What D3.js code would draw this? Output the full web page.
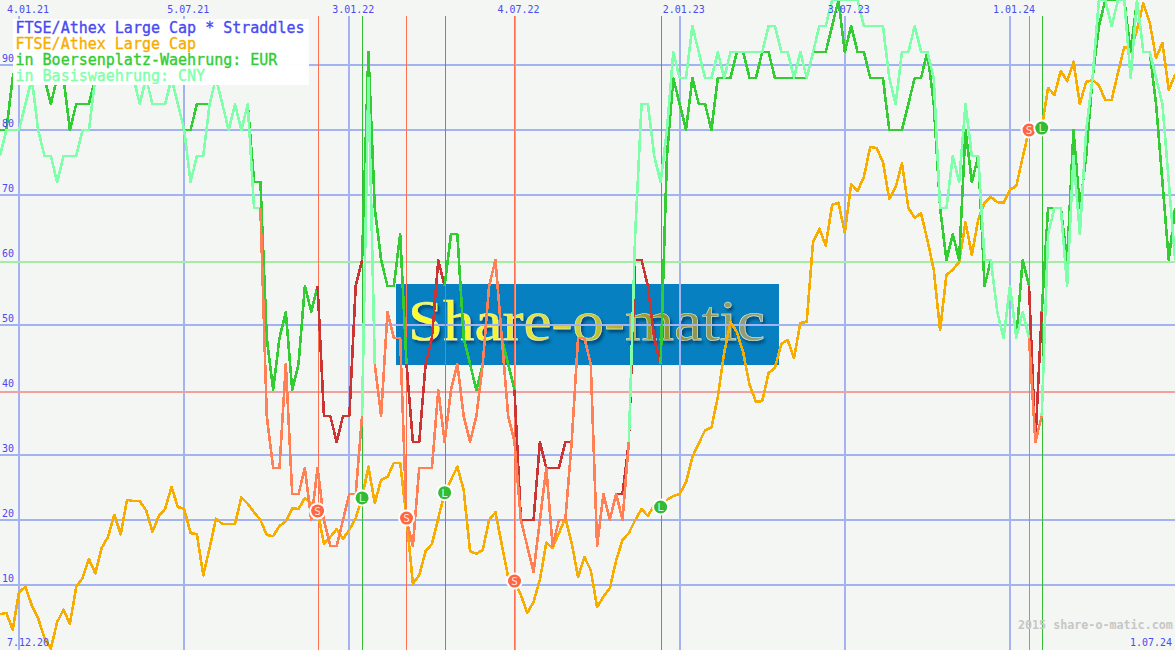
<!DOCTYPE html>
<html><head><meta charset="utf-8">
<script src="https://cdn.jsdelivr.net/npm/d3@7"></script>
<style>html,body{margin:0;padding:0;background:#f4f6f3;overflow:hidden}svg{display:block}
text{font-family:"DejaVu Sans Mono",monospace}</style></head><body>
<div id="chart"></div>
<script>
// Weekly index: 0 = first visible week of the chart
const indexSeries = [5.5,5.7,3.1,8.9,9.7,6.9,4.9,1.8,0.2,4.3,6.2,4.0,9.7,11.1,14.0,11.8,15.7,17.4,20.8,17.8,23.1,22.9,22.9,21.5,18.2,20.6,21.7,25.1,22.0,21.7,18.0,17.8,11.5,15.7,20.2,19.4,19.4,19.4,23.5,22.5,21.2,20.0,17.7,17.5,19.1,19.8,21.8,21.7,23.4,22.5,21.4,16.3,17.4,18.6,17.1,18.5,20.3,23.4,28.2,22.6,26.2,26.6,28.8,28.8,20.3,10.2,11.5,15.2,16.3,20.3,24.2,26.2,28.2,24.6,15.2,14.8,15.4,20.0,21.2,16.2,11.2,10.6,8.5,5.7,7.4,10.8,16.5,15.7,18.0,20.3,16.5,11.2,14.3,12.3,6.6,8.2,9.5,13.8,16.9,18.0,20.0,21.7,20.6,22.3,22.0,23.1,23.7,24.0,25.8,29.7,31.8,33.8,34.2,38.9,45.7,50.5,48.9,45.8,40.8,38.2,38.3,42.6,43.4,47.1,47.7,44.9,50.3,50.5,62.8,64.8,62.2,68.5,68.8,64.2,71.7,70.6,72.8,77.4,77.2,75.1,69.4,71.2,74.9,68.0,66.5,67.2,63.1,58.5,49.2,57.7,58.5,59.7,65.8,60.8,66.2,68.8,69.7,68.9,68.8,70.8,71.4,75.8,80.0,80.0,80.3,86.5,85.4,89.1,87.5,90.5,84.0,87.4,87.7,86.9,84.6,84.6,88.8,92.8,92.3,95.4,99.5,96.5,91.1,93.4,86.2,88.5];
const eurSeries = [80,80,88,92,92,92,92,88,84,88,88,80,84,84,84,88,92,92,92,92,92,92,88,92,92,88,92,88,84,80,80,84,84,84,88,84,80,84,80,84,72,72,48,40,48,52,40,44,56,52,56,36,36,32,36,36,56,60,92,68,60,56,56,64,44,32,32,44,48,60,56,64,64,48,44,40,44,56,60,48,44,40,20,20,20,32,28,28,28,32,32,48,48,44,16,24,20,24,24,32,60,60,56,48,44,76,88,84,80,88,84,84,80,88,88,88,92,92,88,88,92,92,88,88,88,88,88,88,92,92,92,96,100,92,96,92,92,88,88,88,80,80,80,84,88,88,92,84,68,60,64,60,80,72,76,56,60,52,48,56,48,60,56,32,52,68,68,68,60,80,68,76,88,96,100,100,100,100,92,100,92,92,84,72,60,68];
const cnySeries = [76,80,80,80,84,88,80,76,76,72,76,76,76,80,80,88,92,92,92,92,92,88,84,88,84,84,84,88,84,80,72,76,76,84,88,84,80,84,80,84,68,68,36,28,28,44,24,24,28,20,28,20,16,16,20,24,24,36,88,44,36,52,48,48,20,16,28,28,28,40,32,40,44,36,32,36,44,56,60,48,36,32,20,16,12,20,28,16,20,20,32,48,48,44,16,24,20,24,20,32,64,84,84,76,72,80,92,88,88,96,92,88,88,92,88,92,92,92,92,92,92,96,96,92,92,88,92,88,92,96,96,100,100,100,100,100,96,96,96,96,88,84,92,92,96,92,92,88,68,68,76,72,84,76,76,60,60,52,48,56,48,52,48,32,36,64,68,68,56,76,64,80,88,100,100,96,100,100,88,100,92,92,88,84,72,60];
const shortSignals = [50,64,81,162];
const longSignals = [57,70,104,164];
const eurShortRuns = [[50,57],[64,70],[81,104],[162,164]];
const cnyShortRuns = [[41,57],[59,99],[162,164]];
const dateTickWeeks = [3,29,55,81,107,133,159];
const dateTickLabels = ["4.01.21","5.07.21","3.01.22","4.07.22","2.01.23","3.07.23","1.01.24"];
const valueTicks = [10,20,30,50,70,80,90];
const valueLabels = [10,20,30,40,50,60,70,80,90];
const refHigh = 59.7, refLow = 39.7;
const legendLines = ["FTSE/Athex Large Cap * Straddles","FTSE/Athex Large Cap","in Boersenplatz-Waehrung: EUR","in Basiswaehrung: CNY"];
const legendColors = ["#4a4af2","#f7ad00","#33cc33","#80ffaa"];

const W = 1175, H = 650;
const x = d3.scaleLinear().domain([0,185]).range([0,1175.12]);
const y = d3.scaleLinear().domain([0,100]).range([650,0]);

const svg = d3.select("#chart").append("svg").attr("width",W).attr("height",H).attr("viewBox",`0 0 ${W} ${H}`);
svg.append("rect").attr("width",W).attr("height",H).attr("fill","#f4f6f3");

// logo
const defs = svg.append("defs");
const g = defs.append("linearGradient").attr("id","logoGrad").attr("x1","0").attr("x2","1").attr("y1","0").attr("y2","0");
[[0,"#ffff28"],[0.22,"#f6f630"],[0.45,"#d4d43c"],[0.7,"#94942a"],[1,"#8f9f88"]].forEach(s=>g.append("stop").attr("offset",s[0]).attr("stop-color",s[1]));
const sh = defs.append("filter").attr("id","logoShadow").attr("x","-5%").attr("y","-20%").attr("width","110%").attr("height","140%");
sh.append("feDropShadow").attr("dx",2).attr("dy",3).attr("stdDeviation",1.5).attr("flood-color","#033f6c").attr("flood-opacity",0.9);
svg.append("rect").attr("x",396).attr("y",284).attr("width",383).attr("height",81).attr("fill","#0680c0");
svg.append("text").text("Share-o-matic").attr("x",408).attr("y",340)
  .attr("textLength",357).attr("lengthAdjust","spacingAndGlyphs")
  .style("font-family","'Liberation Serif',serif").style("font-size","58px")
  .attr("fill","url(#logoGrad)").attr("stroke","#e8f4d8").attr("stroke-width",0.5)
  .attr("filter","url(#logoShadow)");

// grid: whole-pixel bars so every rule keeps the same width
const grid = svg.append("g").attr("shape-rendering","crispEdges");
grid.selectAll(".v").data(dateTickWeeks).join("rect").attr("x",d=>Math.round(x(d))-1).attr("width",2).attr("y",16).attr("height",H-16).attr("fill","#a3b3f1");
grid.selectAll(".h").data(valueTicks).join("rect").attr("x",0).attr("width",W).attr("y",d=>Math.round(y(d))-1).attr("height",2).attr("fill","#a3b3f1");
grid.append("rect").attr("x",0).attr("width",W).attr("y",Math.round(y(refHigh))-1).attr("height",2).attr("fill","#a4eea4");
grid.append("rect").attr("x",0).attr("width",W).attr("y",Math.round(y(refLow))-1).attr("height",2).attr("fill","#f2a0a0");

// signal lines
const sig = svg.append("g").attr("shape-rendering","crispEdges");
sig.selectAll(".s").data(shortSignals).join("rect").attr("x",d=>Math.floor(x(d)+0.45)).attr("width",1).attr("y",16).attr("height",H-16).attr("fill","#ff7050");
sig.selectAll(".l").data(longSignals).join("rect").attr("x",d=>Math.floor(x(d)+0.45)).attr("width",1).attr("y",16).attr("height",H-16).attr("fill","#33bb33");

// lines
const lineGen = vals => d3.line().x(d=>x(d)).y(d=>y(vals[d]));
function range(a,b){return d3.range(a,b+1);}
function drawSeries(vals, runs, base, alt){
  const gp = svg.append("g").attr("fill","none").attr("stroke-width",2.6).attr("shape-rendering","crispEdges").attr("stroke-linejoin","round");
  let cur = 0;
  const last = vals.length-1;
  runs.forEach(r=>{
    gp.append("path").attr("d",lineGen(vals)(range(cur,r[0]))).attr("stroke",base);
    gp.append("path").attr("d",lineGen(vals)(range(r[0],r[1]))).attr("stroke",alt);
    cur = r[1];
  });
  gp.append("path").attr("d",lineGen(vals)(range(cur,last))).attr("stroke",base);
}
svg.append("path").attr("fill","none").attr("stroke","#f7ad00").attr("stroke-width",2.6).attr("shape-rendering","crispEdges").attr("stroke-linejoin","round")
  .attr("d",lineGen(indexSeries)(range(0,indexSeries.length-1)));
drawSeries(eurSeries,eurShortRuns,"#33cc33","#cc3333");
drawSeries(cnySeries,cnyShortRuns,"#80ffaa","#ff8055");

// markers
function markers(list,label,color,light){
  const m = svg.append("g").selectAll("g").data(list).join("g").attr("transform",d=>`translate(${x(d)},${y(indexSeries[d])})`);
  m.append("circle").attr("r",8.5).attr("fill","#ffffff");
  m.append("circle").attr("r",6.5).attr("fill",color);
  m.append("text").text(label).attr("text-anchor","middle").attr("y",4).attr("fill",light).style("font-size","11px");
}
markers(shortSignals,"S","#ff6644","#ffe6dc");
markers(longSignals,"L","#33bb33","#d8f6d8");

// legend
svg.append("rect").attr("x",13).attr("y",19).attr("width",296).attr("height",66).attr("fill","#ffffff").attr("fill-opacity",0.97);
svg.append("g").selectAll("text").data(legendLines).join("text").text(d=>d)
  .attr("x",15.5).attr("y",(d,i)=>33+16*i).attr("fill",(d,i)=>legendColors[i])
  .attr("stroke",(d,i)=>legendColors[i]).attr("stroke-width",0.35).style("font-size","15px");

// tick labels
const labelColor = "#4a4af2";
const tickText = s => s.style("font-size","10.4px").attr("fill",labelColor).attr("lengthAdjust","spacingAndGlyphs");
svg.append("g").selectAll("text").data(dateTickWeeks).join("text").text((d,i)=>dateTickLabels[i])
  .attr("x",(d,i)=>x(d)-(i===0?12:17)).attr("y",13).attr("textLength",42).call(tickText);
svg.append("g").selectAll("text").data(valueLabels).join("text").text(d=>d)
  .attr("x",2).attr("y",d=>y(d)-3).attr("textLength",12).call(tickText);
svg.append("text").text("7.12.20").attr("x",7).attr("y",646).attr("textLength",42).call(tickText);
svg.append("text").text("1.07.24").attr("x",1130).attr("y",646).attr("textLength",42).call(tickText);
svg.append("text").text("2015 share-o-matic.com").attr("x",1018).attr("y",629).attr("fill","#c6c6c6").attr("font-weight","bold").style("font-size","11.7px");
</script></body></html>
